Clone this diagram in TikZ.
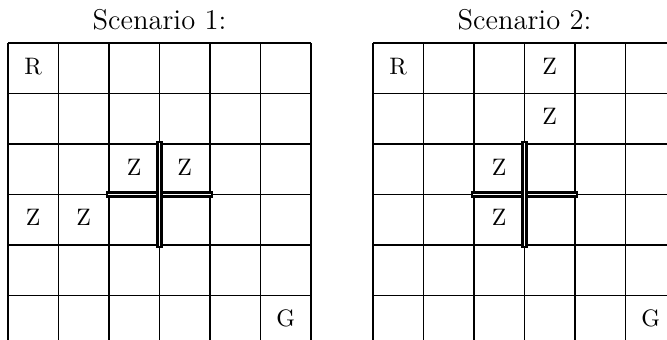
\documentclass[tikz,border=0pt]{standalone}
\begin{document}
\begin{tikzpicture}[x=0.42pt,y=-0.42pt,
  gridline/.style={line width=0.45pt,black},
  wall/.style={double=white,draw=black,line width=1.05pt,double distance=0.7pt,line cap=rect},
  cellmark/.style={anchor=base,inner sep=0pt,font=\normalsize},
  title/.style={anchor=base,inner sep=0pt,font=\large}]
\useasboundingbox (0,0) rectangle (667,339);
\clip (0,0) rectangle (667,339);

% titles
\node[title] (t1) at (159.5,29.3) {Scenario 1:};
\node[title] (t2) at (524.5,29.3) {Scenario 2:};

% two 6x6 grids, cell size 50.5
\foreach \ox in {8,373}{
  \foreach \i in {0,...,6}{
    \draw[gridline] ({\ox+50.5*\i},43) -- ({\ox+50.5*\i},346);
    \draw[gridline] (\ox,{43+50.5*\i}) -- ({\ox+50.5*6},{43+50.5*\i});
  }
}

% cell contents, scenario 1
\foreach \c/\r/\t/\n in {0/0/R/aR,5/5/G/aG,2/2/Z/aZa,3/2/Z/aZb,0/3/Z/aZc,1/3/Z/aZd}{
  \node[cellmark] (\n) at ({8+50.5*(\c+0.5)},{43+50.5*(\r+0.5)+5.8}) {\t};
}
% cell contents, scenario 2
\foreach \c/\r/\t/\n in {0/0/R/bR,5/5/G/bG,3/0/Z/bZa,3/1/Z/bZb,2/2/Z/bZc,2/3/Z/bZd}{
  \node[cellmark] (\n) at ({373+50.5*(\c+0.5)},{43+50.5*(\r+0.5)+5.8}) {\t};
}

% wall crosses
\coordinate (aN) at (159.5,144);
\coordinate (aS) at (159.5,245);
\coordinate (aW) at (109,194.5);
\coordinate (aE) at (210,194.5);
\coordinate (bN) at (524.5,144);
\coordinate (bS) at (524.5,245);
\coordinate (bW) at (474,194.5);
\coordinate (bE) at (575,194.5);
\draw[wall] (aW) -- (aE);
\draw[wall] (aN) -- (aS);
\draw[wall] (bW) -- (bE);
\draw[wall] (bN) -- (bS);
\end{tikzpicture}
\end{document}
